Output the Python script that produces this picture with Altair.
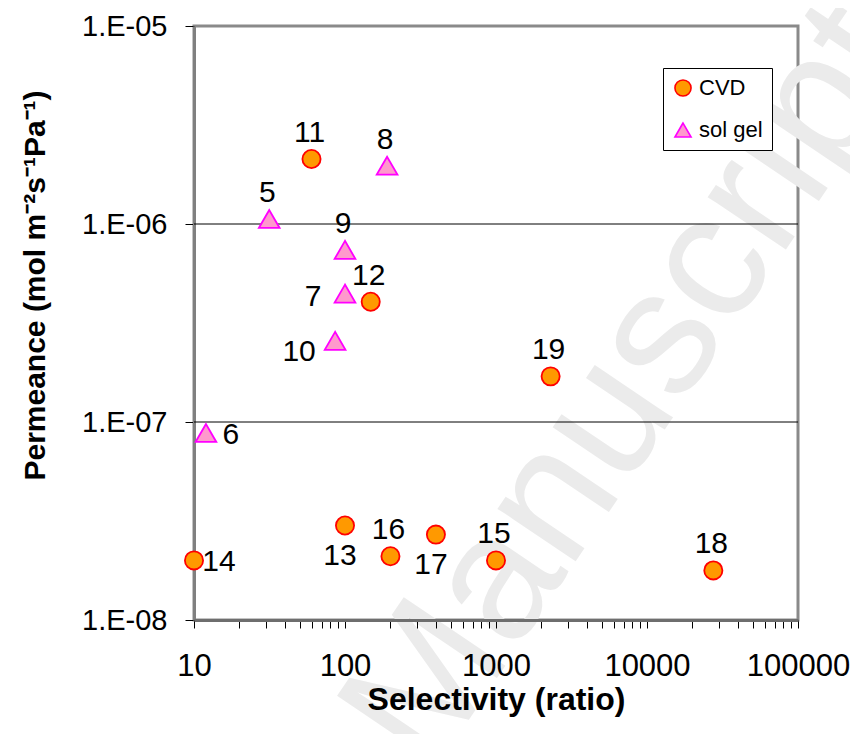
import altair as alt
import pandas as pd

FONT = "Liberation Sans"

# ---- data ----
types = ["CVD", "sol gel"]

cvd_labels = ["11", "12", "13", "14", "15", "16", "17", "18", "19"]
cvd_selectivity = [60, 148, 100, 10, 1000, 200, 400, 27500, 2300]
cvd_permeance = [2.13e-6, 4.05e-7, 3.0e-8, 2.0e-8, 2.0e-8, 2.1e-8, 2.7e-8, 1.78e-8, 1.7e-7]

solgel_labels = ["5", "6", "7", "8", "9", "10"]
solgel_selectivity = [31.5, 12, 100, 190, 100, 86]
solgel_permeance = [1.06e-6, 8.8e-8, 4.45e-7, 1.97e-6, 7.4e-7, 2.57e-7]

x_decades = [10, 100, 1000, 10000, 100000]
y_decades = [1e-8, 1e-7, 1e-6, 1e-5]
x_tick_values = [m * d for d in x_decades[:-1] for m in range(1, 10)] + [x_decades[-1]]

df = pd.DataFrame({
    "sel": cvd_selectivity + solgel_selectivity,
    "perm": cvd_permeance + solgel_permeance,
    "type": ["CVD"] * len(cvd_labels) + ["sol gel"] * len(solgel_labels),
    "label": cvd_labels + solgel_labels,
})
grid_df = pd.DataFrame({"perm": y_decades[1:-1]})

# ---- scales & axes ----
x_scale = alt.Scale(type="log", domain=[10, 100000], nice=False)
y_scale = alt.Scale(type="log", domain=[1e-8, 1e-5], nice=False)

decade_test = " || ".join(f"datum.value == {d}" for d in x_decades)
x_axis = alt.Axis(
    values=x_tick_values,
    labelExpr=f"({decade_test}) ? format(datum.value, 'd') : ''",
    labelFontSize=31, labelColor="black", labelFont=FONT,
    labelPadding=23, labelFlush=False, labelOverlap=False,
    tickSize=8, tickColor="black", tickWidth=1,
    domainColor="#6e6e6e", domainWidth=3,
    grid=False, zindex=1,
    titleFontSize=32, titleFontWeight="bold", titleColor="black", titleFont=FONT,
    titleY=79, titleBaseline="middle",
)
y_axis = alt.Axis(
    values=y_decades,
    labelExpr="'1.E-0' + round(-log(datum.value) / LN10)",
    labelFontSize=29, labelColor="black", labelFont=FONT,
    labelPadding=18, labelFlush=False, labelOverlap=False,
    tickSize=9, tickColor="black", tickWidth=1,
    domainColor="#808080", domainWidth=3,
    grid=False,
    titleFontSize=30, titleFontWeight="bold", titleColor="black", titleFont=FONT,
    titleAngle=270, titleX=-159, titleY=259, titleBaseline="middle",
)

X = alt.X("sel:Q", scale=x_scale, axis=x_axis, title="Selectivity (ratio)")
Y = alt.Y("perm:Q", scale=y_scale, axis=y_axis, title="Permeance (mol m\u207b\u00b2s\u207b\u00b9Pa\u207b\u00b9)")

leg = alt.Legend(
    title=None, orient="none", legendX=469, legendY=42,
    fillColor="white", strokeColor="black", padding=9,
    labelFontSize=22, labelColor="black", labelFont=FONT,
    symbolSize=260, symbolStrokeWidth=1.6, rowPadding=19, labelOffset=5,
)
FILL = alt.Fill("type:N", scale=alt.Scale(domain=types, range=["#FF9900", "#FF99CC"]), legend=leg)
STROKE = alt.Stroke("type:N", scale=alt.Scale(domain=types, range=["#FF0000", "#FF00FF"]), legend=leg)
SHAPE = alt.Shape("type:N", scale=alt.Scale(domain=types, range=["circle", "triangle-up"]), legend=leg)

# ---- watermark ----
watermark = alt.Chart(alt.Data(values=[{}])).mark_text(
    text="Manuscript", font=FONT, fontSize=178, color="#ebebeb",
    angle=304, align="center", baseline="middle",
).encode(x=alt.value(436), y=alt.value(360))

gridlines = alt.Chart(grid_df).mark_rule(color="black", strokeWidth=1).encode(y=Y)


def point_layer(kind, size):
    return alt.Chart(df).transform_filter(
        alt.FieldEqualPredicate(field="type", equal=kind)
    ).mark_point(filled=True, opacity=1, strokeWidth=1.8, size=size).encode(
        x=X, y=Y, fill=FILL, stroke=STROKE, shape=SHAPE
    )


def label_layer(labels, dx, dy):
    return alt.Chart(df).transform_filter(
        alt.FieldOneOfPredicate(field="label", oneOf=labels)
    ).mark_text(
        dx=dx, dy=dy, fontSize=30, font=FONT, color="black", align="center", baseline="middle"
    ).encode(x=X, y=Y, text="label:N")


cvd_points = point_layer("CVD", 330)
solgel_points = point_layer("sol gel", 430)

labels_above = label_layer(["11", "8", "5", "9", "12", "19", "18", "16", "15"], -2, -26)
labels_left = label_layer(["7"], -32, 3)
labels_left_below = label_layer(["10"], -36, 11)
labels_right = label_layer(["6", "14"], 25, 2)
labels_below = label_layer(["13", "17"], -5, 30)

chart = alt.layer(
    watermark, gridlines, cvd_points, solgel_points,
    labels_above, labels_left, labels_left_below, labels_right, labels_below
).properties(
    width=604, height=594,
    autosize=alt.AutoSizeParams(type="none"),
    padding={"left": 186, "top": 18, "right": 52, "bottom": 114},
).configure(font=FONT).configure_view(
    stroke="#8a8a8a", strokeWidth=3, fill="white"
).configure_legend(
    strokeColor="black", fillColor="white"
)

chart.save("out.html", embed_options={"renderer": "svg", "actions": False})
